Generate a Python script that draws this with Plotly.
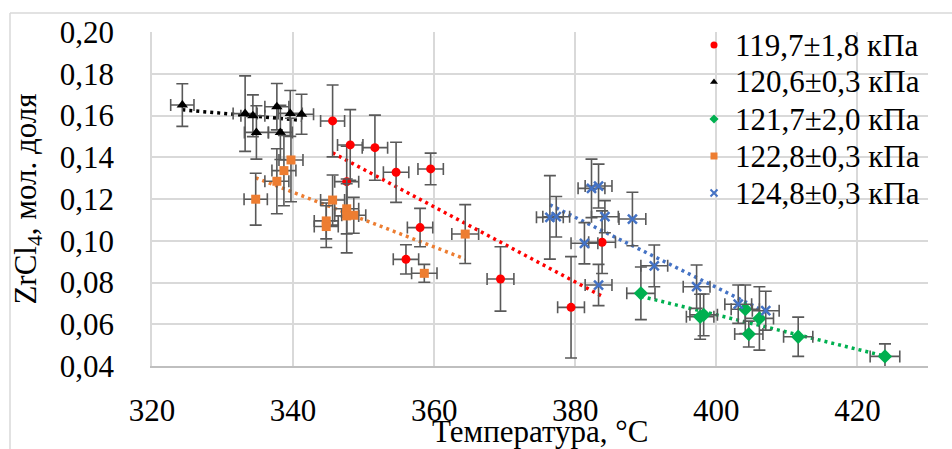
import numpy as np
import plotly.graph_objects as go

# ---- data ----
names = ["119,7±1,8 кПа", "120,6±0,3 кПа", "121,7±2,0 кПа", "122,8±0,3 кПа", "124,8±0,3 кПа"]

red_T = [345.6, 348.1, 351.6, 354.6, 359.5, 347.6, 358.0, 356.0, 369.4, 379.4, 383.8]
red_x = [0.1574, 0.1459, 0.1446, 0.1328, 0.1344, 0.1283, 0.1063, 0.0911, 0.0817, 0.0681, 0.0993]
red_eT = [1.7, 1.8, 1.8, 1.8, 1.8, 1.7, 1.8, 1.8, 1.9, 1.9, 1.9]
red_ex = [0.0172, 0.0169, 0.0156, 0.0144, 0.0076, 0.017, 0.0092, 0.007, 0.0154, 0.0243, 0.015]

blk_T = [324.3, 333.2, 334.3, 334.8, 337.7, 338.2, 339.6, 341.2]
blk_x = [0.165, 0.1609, 0.1599, 0.1519, 0.1642, 0.1519, 0.161, 0.1606]
blk_eT = [1.65, 1.7, 1.7, 1.7, 1.7, 1.7, 1.7, 1.7]
blk_ex = [0.0102, 0.0181, 0.01, 0.0128, 0.0111, 0.013, 0.011, 0.0096]

grn_T = [389.3, 397.7, 398.2, 404.1, 406.1, 404.6, 411.6, 423.9]
grn_x = [0.0748, 0.0636, 0.0645, 0.0672, 0.0628, 0.0553, 0.054, 0.0446]
grn_eT = [2.0, 1.95, 1.95, 2.0, 2.0, 2.0, 2.07, 2.1]
grn_ex = [0.0126, 0.0108, 0.01, 0.0116, 0.0152, 0.0062, 0.0094, 0.006]

org_T = [334.7, 337.7, 338.7, 339.7, 345.6, 347.6, 347.6, 348.6, 344.7, 344.7, 364.4, 358.6]
org_x = [0.1199, 0.1285, 0.1336, 0.1387, 0.1195, 0.1153, 0.1119, 0.1122, 0.1095, 0.1068, 0.1032, 0.0844]
org_eT = [1.65, 1.7, 1.7, 1.7, 1.7, 1.7, 1.7, 1.7, 1.7, 1.7, 1.9, 1.8]
org_ex = [0.0124, 0.0156, 0.0168, 0.02, 0.012, 0.012, 0.0177, 0.0086, 0.0086, 0.01, 0.0141, 0.0043]

blu_T = [376.4, 377.3, 382.3, 383.3, 384.2, 388.1, 381.3, 383.3, 391.2, 397.2, 403.1, 407.0]
blu_x = [0.1112, 0.1115, 0.1251, 0.1262, 0.1115, 0.1104, 0.0988, 0.0788, 0.088, 0.078, 0.0696, 0.0665]
blu_eT = [1.9, 1.9, 1.9, 1.9, 1.9, 1.9, 1.9, 1.9, 1.9, 1.9, 1.9, 1.9]
blu_ex = [0.02, 0.0097, 0.014, 0.0105, 0.0077, 0.0128, 0.0099, 0.0099, 0.01, 0.0104, 0.0092, 0.0093]

x_ticks = [320, 340, 360, 380, 400, 420]
y_ticks = [0.04, 0.06, 0.08, 0.10, 0.12, 0.14, 0.16, 0.18, 0.20]
x_title = "Температура, °C"
y_title = "ZrCl<sub>4</sub>, мол. доля"

series = [
    (names[0], red_T, red_x, red_eT, red_ex, "#ff0000", "circle", 9),
    (names[1], blk_T, blk_x, blk_eT, blk_ex, "#000000", "triangle-up", 10),
    (names[2], grn_T, grn_x, grn_eT, grn_ex, "#00b050", "diamond", 11),
    (names[3], org_T, org_x, org_eT, org_ex, "#ed7d31", "square", 9),
    (names[4], blu_T, blu_x, blu_eT, blu_ex, "#4472c4", "x-thin", 9),
]

FONT = "Liberation Serif"
FS = 31
ERR = "#595959"

W, H = 952, 449
L, R, T_, B = 152, 24, 32, 83
pw, ph = W - L - R, H - T_ - B

def px(xp):
    return (xp - L) / pw

def py(yp):
    return (H - B - yp) / ph

fig = go.Figure()

# trendlines (linear least squares, like the spreadsheet trendline)
for name, T, X, eT, eX, col, sym, sz in series:
    T_arr = np.array(T)
    k, b = np.polyfit(T_arr, np.array(X), 1)
    tx = [T_arr.min(), T_arr.max()]
    fig.add_trace(go.Scatter(x=tx, y=[k * t + b for t in tx], mode="lines",
                             line=dict(color=col, width=3.5, dash="3px,4px"),
                             showlegend=False, hoverinfo="skip"))

# data points with error bars
for name, T, X, eT, eX, col, sym, sz in series:
    marker = dict(color=col, symbol=sym, size=sz)
    if sym == "x-thin":
        marker["line"] = dict(color=col, width=2.5)
    fig.add_trace(go.Scatter(
        x=T, y=X, mode="markers", marker=marker, showlegend=False,
        error_x=dict(type="data", array=eT, color=ERR, thickness=1.6, width=6),
        error_y=dict(type="data", array=eX, color=ERR, thickness=1.6, width=6),
    ))

# legend (drawn by hand to match the row spacing of the original)
leg_sym_x = 714
leg_text_x = 733
leg_row0 = 45
leg_step = 37
leg_syms_x, leg_syms_y, leg_cols, leg_symbols = [], [], [], []
annotations = []
for i, (name, T, X, eT, eX, col, sym, sz) in enumerate(series):
    yrow = leg_row0 + i * leg_step
    leg_syms_x.append(px(leg_sym_x))
    leg_syms_y.append(py(yrow))
    leg_cols.append(col)
    leg_symbols.append(sym)
    annotations.append(dict(x=px(leg_text_x), y=py(yrow), xref="paper", yref="paper",
                            text=name, showarrow=False, xanchor="left", yanchor="middle",
                            font=dict(family=FONT, size=FS, color="black")))

# x-axis title placed as an annotation (axis titles are clamped inside the margin)
annotations.append(dict(x=0.5, y=py(431), xref="paper", yref="paper", text=x_title,
                        showarrow=False, xanchor="center", yanchor="middle",
                        font=dict(family=FONT, size=FS, color="black")))

fig.add_trace(go.Scatter(
    x=leg_syms_x, y=leg_syms_y, xaxis="x2", yaxis="y2", mode="markers",
    marker=dict(color=leg_cols, symbol=leg_symbols, size=7,
                line=dict(color=leg_cols, width=[0, 0, 0, 0, 2])),
    showlegend=False, hoverinfo="skip"))

fig.update_layout(
    width=W, height=H,
    margin=dict(l=L, r=R, t=T_, b=B, autoexpand=False),
    paper_bgcolor="white", plot_bgcolor="white",
    separators=", ",
    font=dict(family=FONT, size=FS, color="black"),
    showlegend=False,
    xaxis=dict(range=[320, 430], tickvals=x_ticks, ticktext=[str(v) for v in x_ticks],
               showgrid=True, gridcolor="#d9d9d9", gridwidth=1.5, zeroline=False,
               showline=True, linecolor="#bfbfbf", linewidth=1.5, ticks="",
               ticklabelstandoff=16, automargin=False),
    yaxis=dict(range=[0.04, 0.20], tickvals=y_ticks, tickformat=".2f",
               showgrid=True, gridcolor="#d9d9d9", gridwidth=1.5, zeroline=False,
               showline=True, linecolor="#d9d9d9", linewidth=1.5, ticks="",
               ticklabelstandoff=30, automargin=False,
               title=dict(text=y_title, standoff=14,
                          font=dict(family=FONT, size=FS))),
    xaxis2=dict(overlaying="x", range=[0, 1], visible=False, fixedrange=True),
    yaxis2=dict(overlaying="y", range=[0, 1], visible=False, fixedrange=True),
    annotations=annotations,
    shapes=[
        dict(type="rect", xref="paper", yref="paper", x0=px(700), x1=px(942), y0=py(212), y1=py(22),
             fillcolor="white", line=dict(width=0), layer="between"),
        dict(type="line", xref="paper", yref="paper", x0=px(10), x1=px(10), y0=py(13), y1=py(470),
             line=dict(color="#d9d9d9", width=1.5)),
        dict(type="line", xref="paper", yref="paper", x0=px(10), x1=px(970), y0=py(13), y1=py(13),
             line=dict(color="#d9d9d9", width=1.5)),
    ],
)

fig.write_html("out.html", config={"displayModeBar": False},
               post_script="document.body.style.margin='0';document.body.style.overflow='hidden';")
